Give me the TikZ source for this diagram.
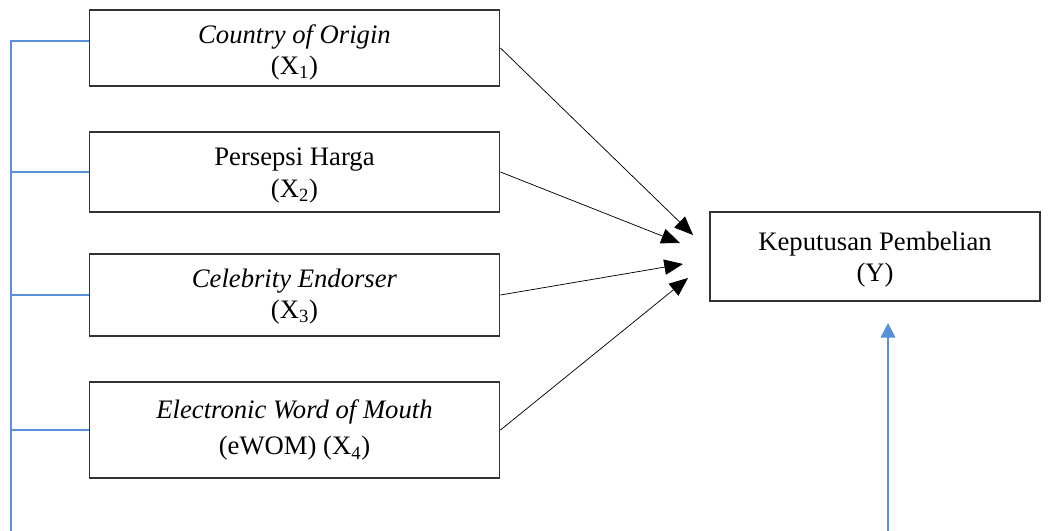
\documentclass[tikz,border=0pt]{standalone}
\usepackage{fontspec}
\setmainfont{Liberation Serif}
\usetikzlibrary{arrows.meta}
\definecolor{lineblue}{RGB}{88,145,215}
\tikzset{
    varbox/.style={draw=black!80, line width=0.9pt, minimum width=308pt, align=center, font=\fontsize{20}{23.5}\selectfont},
    lowtext/.style={text height=#1},
    blueline/.style={draw=lineblue, line width=1.3pt},
    pathto/.style={-{Triangle[length=14pt,width=11.5pt]}, line width=0.55pt}
}
\begin{document}
\begin{tikzpicture}[x=0.75pt,y=-0.75pt]
        \useasboundingbox (0,0) rectangle (1049,531);
        \node[varbox, lowtext=44pt, minimum height=57pt] (x1) at (294.5,48) {\textit{Country of Origin}\\(X\textsubscript{1})};
        \node[varbox, lowtext=42pt, minimum height=60pt] (x2) at (294.5,172) {Persepsi Harga\\(X\textsubscript{2})};
        \node[varbox, lowtext=40pt, minimum height=61.5pt] (x3) at (294.5,295) {\textit{Celebrity Endorser}\\(X\textsubscript{3})};
        \node[varbox, minimum height=72pt] (x4) at (294.5,430) {\textit{Electronic Word of Mouth}\\[4pt](eWOM) (X\textsubscript{4})};
        \node[varbox, lowtext=42pt, minimum width=247.5pt, minimum height=66.75pt] (y) at (875,256.5) {Keputusan Pembelian\\(Y)};
        \coordinate (e1) at (693,235);
        \coordinate (e2) at (680,243);
        \coordinate (e3) at (683,264);
        \coordinate (e4) at (688,278);
        \draw[pathto] (x1.east) -- (e1);
        \draw[pathto] (x2.east) -- (e2);
        \draw[pathto] (x3.east) -- (e3);
        \draw[pathto] (x4.east) -- (e4);
        \coordinate (top) at (11,41);
        \coordinate (bottom) at (11,531);
        \draw[blueline] (bottom) -- (top) -- (x1.west |- top);
        \draw[blueline] (x2.west) -- (x2.west -| top);
        \draw[blueline] (x3.west) -- (x3.west -| top);
        \draw[blueline] (x4.west) -- (x4.west -| top);
        \coordinate (ybase) at (888,531);
        \coordinate (ytip) at (888,323);
        \draw[blueline, -{Triangle[length=11pt,width=11pt]}] (ybase) -- (ytip);
    \end{tikzpicture}
\end{document}
